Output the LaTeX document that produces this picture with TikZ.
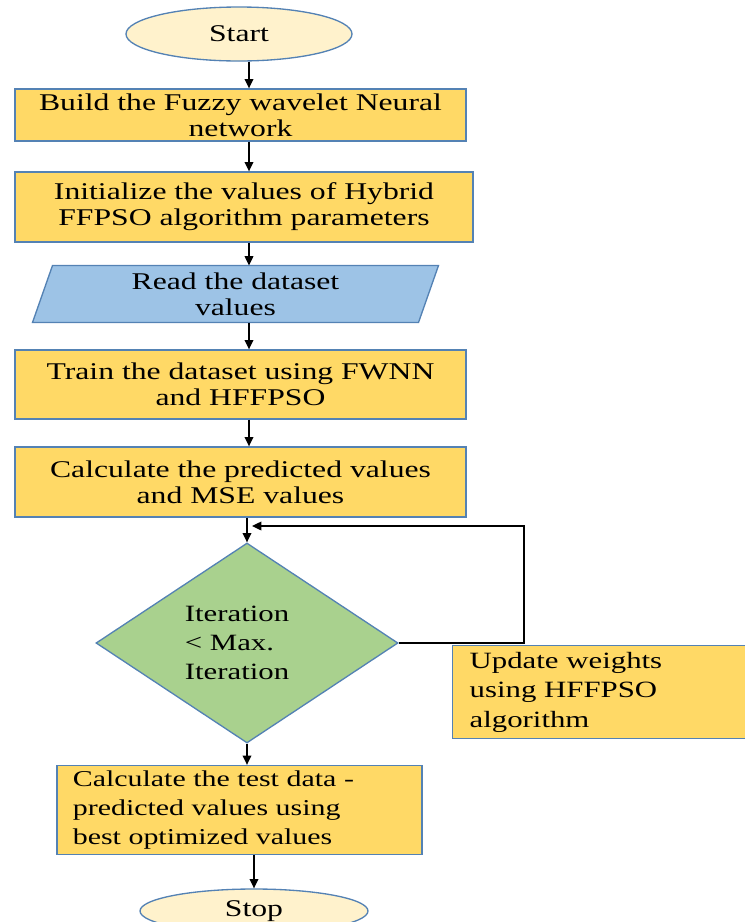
\documentclass[tikz,border=0pt]{standalone}
\usepackage{fontspec}
\setmainfont{Liberation Serif}[FakeStretch=1.32]
\usetikzlibrary{shapes.geometric,arrows.meta,calc,backgrounds}

\definecolor{boxgold}{RGB}{255,217,102}
\definecolor{edgeblue}{RGB}{84,130,180}
\definecolor{ovalcream}{RGB}{255,242,204}
\definecolor{iosky}{RGB}{157,195,230}
\definecolor{decgreen}{RGB}{169,209,142}

\tikzset{every picture/.style={line width=0.75pt}}
\tikzset{
  procbox/.style={draw=edgeblue, fill=boxgold, line width=1pt, inner sep=0pt, align=center, font=\fontsize{18}{19.5}\selectfont},
  termoval/.style={ellipse, draw=edgeblue, fill=ovalcream, line width=1pt, inner sep=0pt, font=\fontsize{18}{19.5}\selectfont},
  iotext/.style={inner sep=0pt, align=center, font=\fontsize{18}{19.5}\selectfont},
  iofill/.style={draw=edgeblue, fill=iosky, line width=1pt},
  decide/.style={diamond, draw=edgeblue, fill=decgreen, line width=1pt, inner sep=0pt, align=left, font=\fontsize{17.5}{22}\selectfont},
  flowarr/.style={-{Triangle[length=7pt,width=6.5pt]}, line width=1pt}
}

\begin{document}
\begin{tikzpicture}[x=0.75pt,y=0.75pt,yscale=-1,xscale=1]
	\useasboundingbox (0,0) rectangle (745,922);
	
	%Terminal: Start
	\node[termoval, minimum width=169.5pt, minimum height=40.5pt] (start) at (239,34) {Start};
	%Process boxes
	\node[procbox, minimum width=338.25pt, minimum height=39pt] (build) at (240.5,115) {Build the Fuzzy wavelet Neural\\network};
	\node[procbox, minimum width=343.5pt, minimum height=52.5pt] (init) at (244,207) {Initialize the values of Hybrid\\FFPSO algorithm parameters};
	%Data: parallelogram
	\node[iotext, minimum width=288.75pt, minimum height=42pt] (read) at (235.5,294) {Read the dataset\\values};
	\begin{scope}[on background layer]
		\draw[iofill] ($(read.north west)+(10,0)$) -- ($(read.north east)+(10,0)$) -- ($(read.south east)-(10,0)$) -- ($(read.south west)-(10,0)$) -- cycle;
	\end{scope}
	\node[procbox, minimum width=338.25pt, minimum height=51.75pt] (train) at (240.5,384.5) {Train the dataset using FWNN\\and HFFPSO};
	\node[procbox, minimum width=338.25pt, minimum height=52.5pt] (calc) at (240.5,482) {Calculate the predicted values\\and MSE values};
	%Decision
	\node[decide, minimum width=226.5pt, minimum height=150pt] (iter) at (247,643) {Iteration\hspace*{15pt}\\< Max.\\Iteration};
	\node[procbox, anchor=north west, minimum width=240pt, minimum height=69.75pt, text width=214.5pt, align=left, inner xsep=12.75pt, inner ysep=3pt, font=\fontsize{17.5}{22}\selectfont] (update) at (452,645) {Update weights\\using HFFPSO\\algorithm};
	\node[procbox, minimum width=273.75pt, minimum height=66.75pt, text width=250pt, align=left, inner sep=0pt, font=\fontsize{17}{21.5}\selectfont] (test) at (239.5,810) {Calculate the test data -\\predicted values using\\best optimized values};
	%Terminal: Stop
	\node[termoval, minimum width=171pt, minimum height=33pt] (stop) at (254,911) {Stop};
	
	%Connectors
	\coordinate (axis) at (249,0);
	\draw[flowarr] (start.south -| axis) -- (build.north -| axis);
	\draw[flowarr] (build.south -| axis) -- (init.north -| axis);
	\draw[flowarr] (init.south -| axis) -- (read.north -| axis);
	\draw[flowarr] (read.south -| axis) -- (train.north -| axis);
	\draw[flowarr] (train.south -| axis) -- (calc.north -| axis);
	\draw[flowarr] (calc.south -| iter.north) -- (iter.north);
	\draw[flowarr] (iter.south) -- (test.north -| iter.south);
	\draw[flowarr] (test.south -| stop.north) -- (stop.north);
	
	%Loop back
	\coordinate (fbtop) at (524,526);
	\coordinate (fbend) at (252,526);
	\draw[flowarr] (iter.east) -| (fbtop) -- (fbend);
	
\end{tikzpicture}
\end{document}
